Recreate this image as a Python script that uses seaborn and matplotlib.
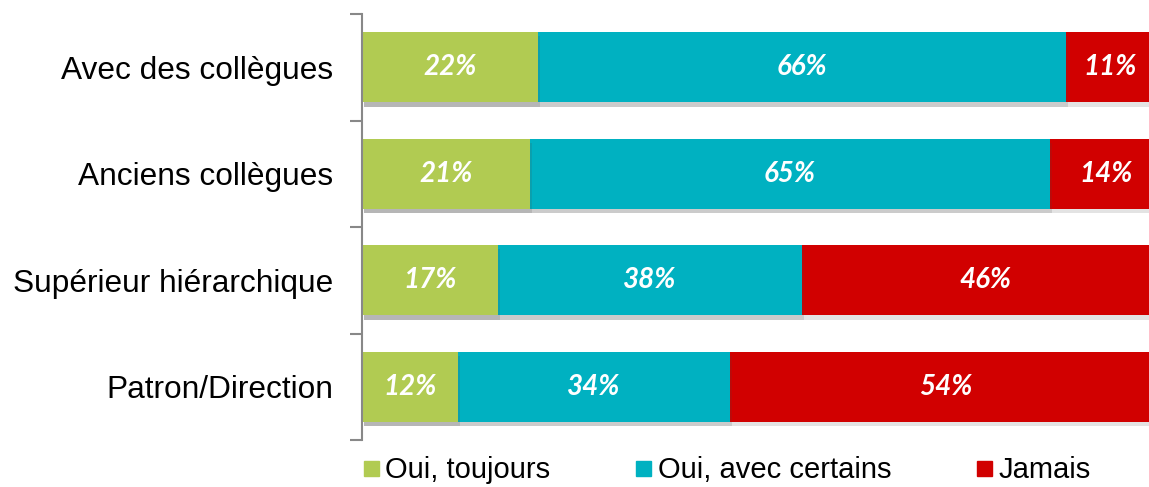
import matplotlib
matplotlib.use("Agg")
import matplotlib.pyplot as plt
import matplotlib.patheffects as pe
from matplotlib.lines import Line2D
import seaborn as sns
import pandas as pd
import numpy as np

categories = ["Avec des collègues", "Anciens collègues", "Supérieur hiérarchique", "Patron/Direction"]
series_names = ["Oui, toujours", "Oui, avec certains", "Jamais"]
toujours = [22, 21, 17, 12]
certains = [66, 65, 38, 34]
jamais = [11, 14, 46, 54]
colors = ["#B1CB52", "#00B1C1", "#D10000"]

sns.set_style("white")
plt.rcParams["font.family"] = ["Liberation Sans", "DejaVu Sans"]
plt.rcParams["text.color"] = "black"
plt.rcParams["ytick.color"] = "#888888"
plt.rcParams["ytick.labelcolor"] = "black"

df = pd.DataFrame({"cat": categories, "t": toujours, "c": certains, "j": jamais})
df["c_end"] = df["t"] + df["c"]
df["j_end"] = df["c_end"] + df["j"]

fig = plt.figure(figsize=(11.49, 4.87), dpi=100)
ax = fig.add_axes([0.315, 0.0965, 0.685, 0.8745])

shadow = [pe.SimplePatchShadow(offset=(1.5, -3), alpha=0.15, shadow_rgbFace="#444444"), pe.Normal()]

# stacked bars: draw cumulative totals from the back to the front
for col, color in zip(["j_end", "c_end", "t"], colors[::-1]):
    sns.barplot(data=df, x=col, y="cat", color=color, width=0.66,
                saturation=1, orient="h", ax=ax)
for p in ax.patches:
    p.set_linewidth(0)
    p.set_path_effects(shadow)

starts = [np.zeros(4), df["t"].values, df["c_end"].values]
for vals, left in zip([toujours, certains, jamais], starts):
    for i, (v, l) in enumerate(zip(vals, left)):
        ax.text(l + v / 2, i, f"{v}%", ha="center", va="center", color="white",
                fontsize=20, fontweight="bold", fontstyle="italic", family=["Lato", "DejaVu Sans"])

ax.set_xlim(0, 98.4)
ax.set_ylim(3.5, -0.5)
ax.set_xlabel("")
ax.set_ylabel("")
ax.set_xticks([])
ax.set_yticks([-0.5, 0.5, 1.5, 2.5, 3.5])
ax.set_yticklabels([])
ax.set_yticks(range(4), minor=True)
ax.set_yticklabels(categories, minor=True, fontsize=22.8)
ax.tick_params(axis="y", which="major", left=True, length=9, width=1.5, color="#888888")
ax.tick_params(axis="y", which="minor", left=False, pad=19)
for s in ["top", "right", "bottom"]:
    ax.spines[s].set_visible(False)
ax.spines["left"].set_color("#888888")
ax.spines["left"].set_linewidth(1.5)

handles = [Line2D([], [], marker="s", linestyle="", markersize=10.8, color=c) for c in colors]
fig.legend(handles, series_names, loc="center left", bbox_to_anchor=(0.315, 0.035), ncol=3,
           frameon=False, fontsize=21, handletextpad=0.2, columnspacing=2.88,
           handlelength=0.6, borderpad=0, borderaxespad=0)

fig.savefig("out.png", dpi=100)
